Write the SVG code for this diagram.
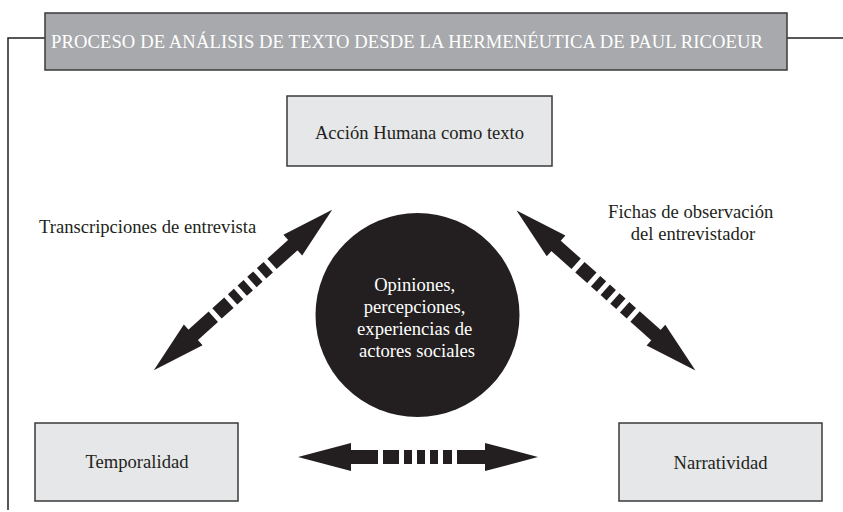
<svg xmlns="http://www.w3.org/2000/svg" xmlns:xlink="http://www.w3.org/1999/xlink" width="843" height="512" viewBox="0 0 843 512">
<style>
.box{fill:#e6e7e8;stroke:#3a3a3a;stroke-width:1.5}
.title{fill:#a7a9ac;stroke:#3a3a3a;stroke-width:1.5}
.t{font-family:"Liberation Serif","Times New Roman",serif;font-size:18.6px;fill:#231f20}
.w{fill:#ffffff}
.ln{stroke:#231f20;stroke-width:1.5;fill:none}
.ar{fill:#231f20}
</style>
<defs>
<g id="dbl-arrow" class="ar">
<path d="M-120,0 L-67,-14 L-67,14 Z"/>
<rect x="-68" y="-7" width="28" height="14"/>
<rect x="-35" y="-7" width="16" height="14"/>
<rect x="-14" y="-7" width="8" height="14"/>
<rect x="-1" y="-7" width="8" height="14"/>
<rect x="12" y="-7" width="8" height="14"/>
<rect x="25" y="-7" width="9" height="14"/>
<rect x="39" y="-7" width="29" height="14"/>
<path d="M120,0 L67,-14 L67,14 Z"/>
</g>
</defs>
<rect width="843" height="512" fill="#ffffff"/>
<g id="frame">
<path class="ln" d="M8,510 L8,38 L45,38"/>
<path class="ln" d="M787,38 L843,38"/>
</g>
<g id="title">
<rect class="title" x="45" y="13" width="742" height="57"/>
<text class="t w" x="51" y="48" textLength="712">PROCESO DE ANÁLISIS DE TEXTO DESDE LA HERMENÉUTICA DE PAUL RICOEUR</text>
</g>
<g id="accion">
<rect class="box" x="287" y="96" width="265" height="70"/>
<text class="t" x="419.5" y="139" text-anchor="middle">Acción Humana como texto</text>
</g>
<g id="temporalidad">
<rect class="box" x="35" y="423" width="203" height="78"/>
<text class="t" x="137" y="468" text-anchor="middle">Temporalidad</text>
</g>
<g id="narratividad">
<rect class="box" x="619" y="423" width="203" height="78"/>
<text class="t" x="720.5" y="469" text-anchor="middle">Narratividad</text>
</g>
<g id="centro">
<circle cx="417.5" cy="315" r="102" fill="#231f20"/>
<text class="t w" text-anchor="middle">
<tspan x="417" y="291">Opiniones,</tspan>
<tspan x="417" y="313">percepciones,</tspan>
<tspan x="417" y="335">experiencias de</tspan>
<tspan x="417" y="357">actores sociales</tspan>
</text>
</g>
<g id="connectors">
<use xlink:href="#dbl-arrow" href="#dbl-arrow" transform="translate(243,290) rotate(-42)"/>
<use xlink:href="#dbl-arrow" href="#dbl-arrow" transform="translate(606,290.5) rotate(41.8)"/>
<use xlink:href="#dbl-arrow" href="#dbl-arrow" transform="translate(418,457)"/>
</g>
<g id="labels">
<text class="t" x="39" y="233">Transcripciones de entrevista</text>
<text class="t" text-anchor="middle">
<tspan x="693" y="218">Fichas de observación</tspan>
<tspan x="693" y="240">del entrevistador</tspan>
</text>
</g>
</svg>
